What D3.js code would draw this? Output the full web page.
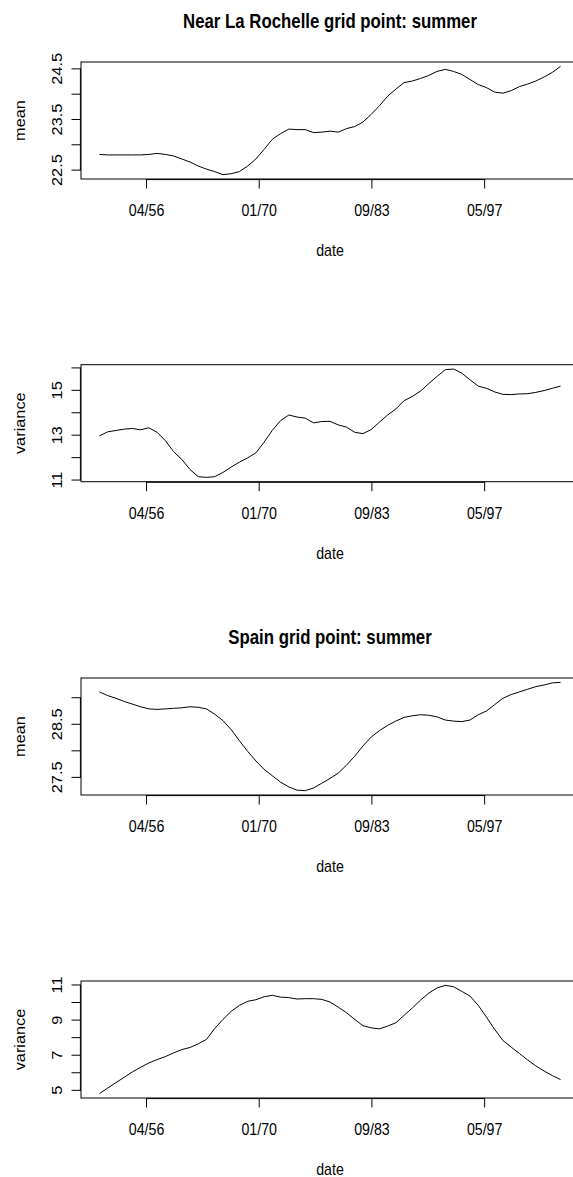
<!DOCTYPE html>
<html>
<head>
<meta charset="utf-8">
<script src="https://cdn.jsdelivr.net/npm/d3@7"></script>
<style>
  body { margin: 0; background: #fff; }
  text { font-family: "Liberation Sans", Arial, Helvetica, sans-serif; fill: #000; }
</style>
</head>
<body>
<div id="container"></div>
<script>
// Years of the summer windows (one point per year)
const years = [1950, 1951, 1952, 1953, 1954, 1955, 1956, 1957, 1958, 1959,
  1960, 1961, 1962, 1963, 1964, 1965, 1966, 1967, 1968, 1969,
  1970, 1971, 1972, 1973, 1974, 1975, 1976, 1977, 1978, 1979,
  1980, 1981, 1982, 1983, 1984, 1985, 1986, 1987, 1988, 1989,
  1990, 1991, 1992, 1993, 1994, 1995, 1996, 1997, 1998, 1999,
  2000, 2001, 2002, 2003, 2004, 2005, 2006];

// Near La Rochelle grid point
const rochelleMean = [22.81, 22.80, 22.80, 22.80, 22.80, 22.80, 22.81, 22.83, 22.81, 22.78,
  22.72, 22.66, 22.58, 22.52, 22.47, 22.41, 22.43, 22.47, 22.58, 22.72,
  22.91, 23.11, 23.22, 23.31, 23.30, 23.30, 23.24, 23.25, 23.27, 23.25,
  23.32, 23.36, 23.45, 23.60, 23.77, 23.96, 24.10, 24.23, 24.26, 24.31,
  24.37, 24.45, 24.49, 24.45, 24.39, 24.29, 24.19, 24.13, 24.04, 24.02,
  24.07, 24.15, 24.20, 24.26, 24.34, 24.43, 24.55];
const rochelleVar = [12.97, 13.15, 13.21, 13.27, 13.30, 13.24, 13.33, 13.13, 12.76, 12.27,
  11.92, 11.47, 11.15, 11.12, 11.15, 11.34, 11.58, 11.80, 11.99, 12.21,
  12.69, 13.22, 13.65, 13.90, 13.81, 13.76, 13.55, 13.61, 13.62, 13.46,
  13.36, 13.13, 13.07, 13.25, 13.58, 13.90, 14.17, 14.54, 14.73, 14.97,
  15.30, 15.62, 15.92, 15.95, 15.77, 15.47, 15.19, 15.09, 14.93, 14.82,
  14.81, 14.84, 14.85, 14.91, 14.99, 15.09, 15.19];

// Spain grid point
const spainMean = [29.11, 29.04, 28.99, 28.93, 28.88, 28.83, 28.79, 28.78, 28.79, 28.80,
  28.81, 28.83, 28.82, 28.79, 28.69, 28.57, 28.40, 28.19, 27.99, 27.81,
  27.65, 27.53, 27.41, 27.32, 27.26, 27.25, 27.30, 27.39, 27.48, 27.58,
  27.73, 27.90, 28.09, 28.26, 28.38, 28.48, 28.56, 28.63, 28.66, 28.68,
  28.67, 28.64, 28.58, 28.56, 28.55, 28.58, 28.68, 28.75, 28.87, 28.99,
  29.06, 29.11, 29.16, 29.21, 29.24, 29.28, 29.29];
const spainVar = [4.81, 5.13, 5.44, 5.74, 6.05, 6.31, 6.56, 6.75, 6.92, 7.13,
  7.32, 7.44, 7.65, 7.90, 8.52, 9.04, 9.50, 9.84, 10.07, 10.16,
  10.33, 10.41, 10.31, 10.28, 10.20, 10.22, 10.22, 10.18, 10.03, 9.74,
  9.42, 9.04, 8.68, 8.56, 8.50, 8.66, 8.85, 9.27, 9.69, 10.14,
  10.54, 10.83, 10.98, 10.90, 10.64, 10.37, 9.84, 9.17, 8.47, 7.84,
  7.46, 7.10, 6.73, 6.39, 6.10, 5.84, 5.61];

// x axis ticks (dates) and y axis ticks / labelled ticks per panel
const xTickDates = ["1956-04-25", "1970-01-01", "1983-09-09", "1997-05-19"];
const yTicks = [
  [22.5, 23, 23.5, 24, 24.5],
  [11, 12, 13, 14, 15, 16],
  [27.5, 28, 28.5, 29],
  [5, 6, 7, 8, 9, 10, 11]
];
const yTickLabels = [
  ["22.5", "23.5", "24.5"],
  ["11", "13", "15"],
  ["27.5", "28.5"],
  ["5", "7", "9", "11"]
];
const titles = ["Near La Rochelle grid point: summer", "", "Spain grid point: summer", ""];
const yLabels = ["mean", "variance", "mean", "variance"];
const seriesList = [rochelleMean, rochelleVar, spainMean, spainVar];

// Layout
const width = 573, height = 1177;
const plotLeft = 81, plotRight = 579, plotHeight = 117;
const panelTops = [62, 364.7, 678, 981];
const fs = 14.2, titleFs = 16.8, tickLen = 9.5;
const stretch = 1.15; // the original text is a bit taller than wide

const svg = d3.select("#container").append("svg")
  .attr("width", width)
  .attr("height", height);

// dates of each point (summer of the year)
const dates = years.map(y => new Date(Date.UTC(y, 7, 7)));

// R style 4% padding of the data range
function padded(ext) {
  const d = (ext[1] - ext[0]) * 0.04;
  return [ext[0] - d, ext[1] + d];
}

// place a text at (tx, ty), stretched vertically, optionally rotated
function place(tx, ty, rot) {
  return "translate(" + tx + "," + ty + ") scale(1," + stretch + ")" + (rot ? " rotate(-90)" : "");
}

const tExt = d3.extent(dates, d => d.getTime());
const x = d3.scaleUtc()
  .domain(padded(tExt).map(t => new Date(t)))
  .range([plotLeft, plotRight]);

const fmt = d3.utcFormat("%m/%y");

seriesList.forEach((values, i) => {
  const top = panelTops[i];
  const bottom = top + plotHeight;
  const g = svg.append("g");

  const y = d3.scaleLinear()
    .domain(padded(d3.extent(values)))
    .range([bottom, top]);

  // Data line
  const line = d3.line()
    .x((d, j) => x(dates[j]))
    .y(d => y(d));
  g.append("path")
    .datum(values)
    .attr("fill", "none")
    .attr("stroke", "#000")
    .attr("stroke-width", 1)
    .attr("d", line);

  // Box
  g.append("rect")
    .attr("x", plotLeft)
    .attr("y", top)
    .attr("width", plotRight - plotLeft)
    .attr("height", plotHeight)
    .attr("fill", "none")
    .attr("stroke", "#000")
    .attr("stroke-width", 1);

  // x axis: line between first and last tick sits on the box
  const xt = xTickDates.map(s => new Date(s + "T00:00:00Z"));
  g.append("line")
    .attr("x1", x(xt[0])).attr("x2", x(xt[xt.length - 1]))
    .attr("y1", bottom + 0.6).attr("y2", bottom + 0.6)
    .attr("stroke", "#000");
  g.selectAll(".xtick")
    .data(xt)
    .enter().append("line")
    .attr("x1", d => x(d)).attr("x2", d => x(d))
    .attr("y1", bottom).attr("y2", bottom + tickLen)
    .attr("stroke", "#000");
  g.selectAll(".xlab")
    .data(xt)
    .enter().append("text")
    .attr("transform", d => place(x(d), bottom + 37, false))
    .attr("text-anchor", "middle")
    .attr("font-size", fs)
    .text(d => fmt(d));

  // y axis
  const yt = yTicks[i];
  g.append("line")
    .attr("x1", plotLeft - 0.6).attr("x2", plotLeft - 0.6)
    .attr("y1", y(yt[0])).attr("y2", y(yt[yt.length - 1]))
    .attr("stroke", "#000");
  g.selectAll(".ytick")
    .data(yt)
    .enter().append("line")
    .attr("x1", plotLeft - tickLen).attr("x2", plotLeft)
    .attr("y1", d => y(d)).attr("y2", d => y(d))
    .attr("stroke", "#000");
  g.selectAll(".ylab")
    .data(yTickLabels[i])
    .enter().append("text")
    .attr("transform", d => place(plotLeft - 19, y(+d), true))
    .attr("text-anchor", "middle")
    .attr("font-size", fs)
    .text(d => d);

  // axis titles
  g.append("text")
    .attr("transform", place((plotLeft + plotRight) / 2, bottom + 77, false))
    .attr("text-anchor", "middle")
    .attr("font-size", fs)
    .text("date");
  g.append("text")
    .attr("transform", place(25, top + plotHeight / 2, true))
    .attr("text-anchor", "middle")
    .attr("font-size", fs)
    .text(yLabels[i]);

  // main title
  if (titles[i]) {
    g.append("text")
      .attr("transform", place((plotLeft + plotRight) / 2, top - 34, false))
      .attr("text-anchor", "middle")
      .attr("font-size", titleFs)
      .attr("font-weight", "bold")
      .text(titles[i]);
  }
});
</script>
</body>
</html>
